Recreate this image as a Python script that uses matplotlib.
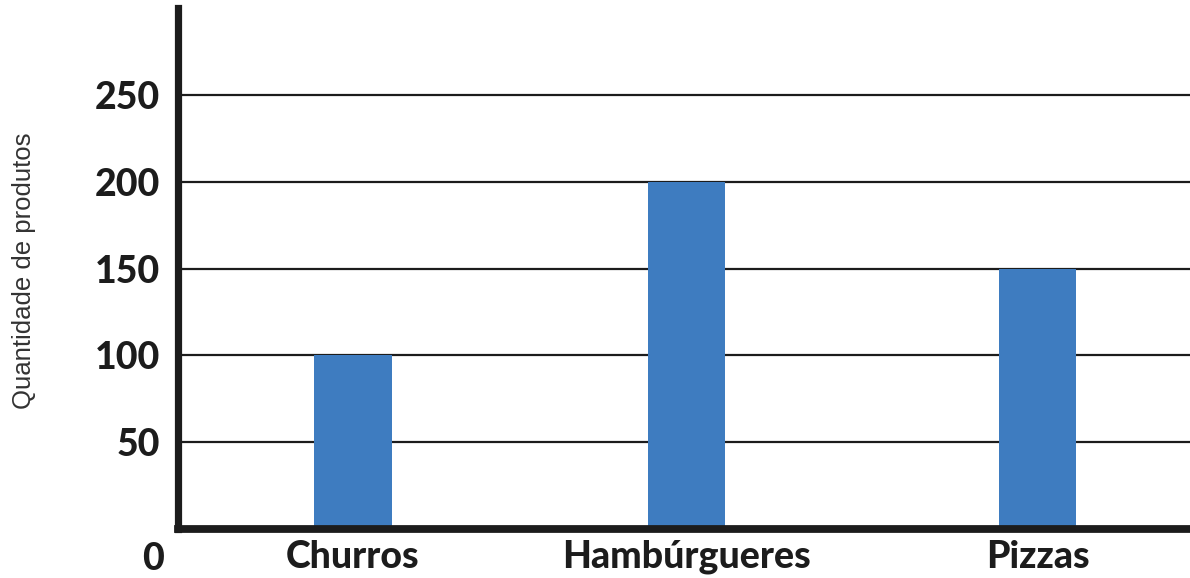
import matplotlib
matplotlib.use("Agg")
import matplotlib.pyplot as plt

# dados do gráfico
produtos = ["Churros", "Hambúrgueres", "Pizzas"]
quantidades = [100, 200, 150]
y_ticks = [50, 100, 150, 200, 250]
y_label = "Quantidade de produtos"

bar_color = "#3e7cc0"
ink = "#1c1c1c"

fig = plt.figure(figsize=(11.9, 5.78), dpi=100)
ax = fig.add_axes([0.1496, 0.0856, 0.8504, 0.8997])

# bar centres are not quite evenly spaced in the original
pos = [0, 0.973, 2]
ax.bar(pos, quantidades, width=0.225, color=bar_color, zorder=2)

ax.set_xlim(-0.511, 2.444)
ax.set_ylim(0, 300)

# grid lines
ax.set_yticks(y_ticks)
ax.yaxis.grid(True, color=ink, linewidth=1.6, zorder=1)
ax.set_axisbelow(True)

ax.set_xticks(pos)
ax.set_xticklabels(produtos)

for side in ["top", "right"]:
    ax.spines[side].set_visible(False)
ax.spines["left"].set_linewidth(5.2)
ax.spines["left"].set_color(ink)
ax.spines["bottom"].set_linewidth(5.6)
ax.spines["bottom"].set_color(ink)
ax.spines["bottom"].set_capstyle("projecting")

font = dict(family="Lato", weight="black", size=27, color=ink)
ax.tick_params(axis="both", length=0)
ax.tick_params(axis="y", pad=13)
ax.tick_params(axis="x", pad=8)
for lbl in ax.get_yticklabels() + ax.get_xticklabels():
    lbl.set_fontfamily(font["family"])
    lbl.set_fontweight(font["weight"])
    lbl.set_fontsize(font["size"])
    lbl.set_color(font["color"])

# the zero sits below the corner
ax.annotate("0", xy=(0, 0), xycoords="axes fraction",
            xytext=(-10, -10), textcoords="offset points",
            ha="right", va="top", **font)

fig.text(0.020, 0.531, y_label, rotation=90, ha="center", va="center",
         family="Liberation Sans", fontsize=18.5, color="#333333")

fig.savefig("out.png", dpi=100)
